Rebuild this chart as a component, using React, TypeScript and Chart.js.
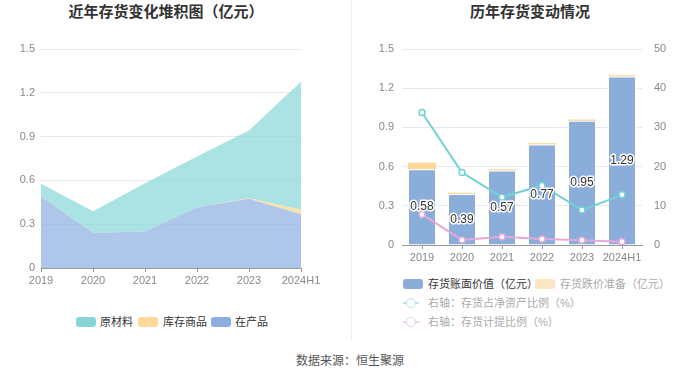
import React, { useEffect, useRef } from "react";
import { Chart, registerables } from "chart.js";

Chart.register(...registerables);

const FONT = 'Arial, "Liberation Sans", "Noto Sans CJK SC", sans-serif';

// Left chart: stacked area
const areaYears = ["2019", "2020", "2021", "2022", "2023", "2024H1"];
const wip = [0.49, 0.24, 0.25, 0.415, 0.474, 0.369]; // 在产品
const goods = [0, 0, 0, 0, 0.004, 0.03]; // 库存商品
const rawMat = [0.087, 0.148, 0.33, 0.349, 0.464, 0.878]; // 原材料

// Right chart: bars + lines
const barYears = ["2019", "2020", "2021", "2022", "2023", "2024H1"];
const bookValue = [0.58, 0.39, 0.57, 0.77, 0.95, 1.29];
const provision = [0.05, 0.01, 0.01, 0.01, 0.01, 0.01];
const netAssetRatio = [33.8, 18.5, 12.2, 15.2, 8.9, 12.8];
const provisionRatio = [7.8, 1.3, 2.1, 1.5, 1.2, 0.85];

const leftTicks = [0, 0.3, 0.6, 0.9, 1.2, 1.5];

const fmt = (v: number) => {
  const n = Number(Number(v).toFixed(2));
  return String(n);
};

function AreaChart() {
  const ref = useRef<HTMLCanvasElement>(null);
  useEffect(() => {
    const chart = new Chart(ref.current!, {
      type: "line",
      data: {
        labels: areaYears,
        datasets: [
          {
            label: "在产品",
            data: wip,
            fill: "origin",
            backgroundColor: "rgba(140,174,224,0.7)",
            borderWidth: 0,
            pointRadius: 0,
            tension: 0,
          },
          {
            label: "库存商品",
            data: goods,
            fill: "-1",
            backgroundColor: "rgba(253,218,150,0.8)",
            borderWidth: 0,
            pointRadius: 0,
            tension: 0,
          },
          {
            label: "原材料",
            data: rawMat,
            fill: "-1",
            backgroundColor: "rgba(136,213,217,0.7)",
            borderWidth: 0,
            pointRadius: 0,
            tension: 0,
          },
        ],
      },
      options: {
        animation: false,
        responsive: false,
        layout: { padding: { top: 19, right: 49, left: 0, bottom: 0 } },
        plugins: { legend: { display: false }, tooltip: { enabled: false } },
        scales: {
          x: {
            offset: false,
            grid: { display: true, drawOnChartArea: false, drawTicks: true, tickLength: 4, color: "#999" },
            border: { color: "#999" },
            ticks: { color: "#888", font: { family: FONT, size: 11 }, padding: 2, maxRotation: 0, autoSkip: false },
            afterFit: (s: any) => { s.height = 22; },
          },
          y: {
            stacked: true,
            min: 0,
            max: 1.5,
            afterBuildTicks: (s: any) => { s.ticks = leftTicks.map((v) => ({ value: v })); },
            grid: { color: "#e6e9f4", drawTicks: false },
            border: { display: false },
            ticks: { color: "#888", font: { family: FONT, size: 11 }, padding: 6, callback: (v: any) => fmt(v) },
            afterFit: (s: any) => { s.width = 41; },
          },
        },
      },
    });
    return () => chart.destroy();
  }, []);
  return <canvas ref={ref} width={350} height={260} style={{ position: "absolute", left: 0, top: 30, width: 350, height: 260 }} />;
}

const labelPlugin = {
  id: "barLabels",
  afterDatasetsDraw(chart: any) {
    const meta = chart.getDatasetMeta(0);
    const ctx = chart.ctx;
    ctx.save();
    ctx.font = `12px ${FONT}`;
    ctx.textAlign = "center";
    ctx.textBaseline = "middle";
    meta.data.forEach((el: any, i: number) => {
      const y = (el.y + el.base) / 2;
      const t = fmt(bookValue[i]);
      ctx.lineWidth = 3;
      ctx.strokeStyle = "#fff";
      ctx.lineJoin = "round";
      ctx.strokeText(t, el.x, y);
      ctx.fillStyle = "#333";
      ctx.fillText(t, el.x, y);
    });
    ctx.restore();
  },
};

function BarChart() {
  const ref = useRef<HTMLCanvasElement>(null);
  useEffect(() => {
    const chart = new Chart(ref.current!, {
      type: "bar",
      data: {
        labels: barYears,
        datasets: [
          {
            type: "bar",
            label: "存货账面价值（亿元）",
            data: bookValue,
            backgroundColor: "#8badda",
            borderColor: "rgba(255,255,255,0.5)",
            borderWidth: 1,
            barPercentage: 0.7,
            categoryPercentage: 1,
            yAxisID: "y",
            order: 2,
          },
          {
            type: "bar",
            label: "存货跌价准备（亿元）",
            data: provision,
            backgroundColor: "#fdd797",
            borderWidth: 0,
            barPercentage: 0.7,
            categoryPercentage: 1,
            yAxisID: "y",
            order: 2,
          },
          {
            type: "line",
            label: "右轴：存货占净资产比例（%）",
            data: netAssetRatio,
            borderColor: "#72d1d4",
            borderWidth: 2,
            pointRadius: 3,
            pointBackgroundColor: "#fff",
            pointBorderColor: "#72d1d4",
            pointBorderWidth: 1.5,
            tension: 0,
            yAxisID: "y1",
            order: 0,
          } as any,
          {
            type: "line",
            label: "右轴：存货计提比例（%）",
            data: provisionRatio,
            borderColor: "#e4a9da",
            borderWidth: 2,
            pointRadius: 3,
            pointBackgroundColor: "#fff",
            pointBorderColor: "#e4a9da",
            pointBorderWidth: 1.5,
            tension: 0,
            yAxisID: "y1",
            order: 0,
          } as any,
        ],
      },
      options: {
        animation: false,
        responsive: false,
        layout: { padding: { top: 19, right: 0, left: 0, bottom: 0 } },
        plugins: { legend: { display: false }, tooltip: { enabled: false } },
        scales: {
          x: {
            stacked: true,
            grid: { display: true, offset: false, drawOnChartArea: false, drawTicks: true, tickLength: 4, color: "#999" },
            border: { color: "#999" },
            ticks: { color: "#888", font: { family: FONT, size: 11 }, padding: 2, maxRotation: 0, autoSkip: false },
            afterFit: (s: any) => { s.height = 25; },
          },
          y: {
            stacked: true,
            position: "left",
            min: 0,
            max: 1.5,
            afterBuildTicks: (s: any) => { s.ticks = leftTicks.map((v) => ({ value: v })); },
            grid: { color: "#e6e9f4", drawTicks: false },
            border: { display: false },
            ticks: { color: "#888", font: { family: FONT, size: 11 }, padding: 8, callback: (v: any) => fmt(v) },
            afterFit: (s: any) => { s.width = 52; },
          },
          y1: {
            position: "right",
            min: 0,
            max: 50,
            ticks: { stepSize: 10, color: "#888", font: { family: FONT, size: 11 }, padding: 12 },
            grid: { display: false, drawTicks: false },
            border: { display: false },
            afterFit: (s: any) => { s.width = 58; },
          },
        },
      },
      plugins: [labelPlugin],
    });
    return () => chart.destroy();
  }, []);
  return <canvas ref={ref} width={350} height={240} style={{ position: "absolute", left: 350, top: 30, width: 350, height: 240 }} />;
}

const txt: React.CSSProperties = { position: "absolute", fontFamily: FONT, fontSize: 11, whiteSpace: "nowrap", lineHeight: "14px" };

function Swatch({ x, y, color }: { x: number; y: number; color: string }) {
  return <div style={{ position: "absolute", left: x, top: y - 5, width: 20, height: 10, borderRadius: 3, background: color }} />;
}

function LineIcon({ x, y, color }: { x: number; y: number; color: string }) {
  return (
    <>
      <div style={{ position: "absolute", left: x, top: y - 1, width: 16, height: 2, background: color }} />
      <div style={{ position: "absolute", left: x + 3, top: y - 5, width: 8, height: 8, borderRadius: 5, border: `1px solid ${color}`, background: "#fff" }} />
    </>
  );
}

export default function App() {
  return (
    <div style={{ position: "fixed", left: 0, top: 0, width: 700, height: 378, background: "#fff", overflow: "hidden" }}>
      <div style={{ ...txt, left: 0, width: 332, top: 3, textAlign: "center", fontSize: 15, fontWeight: "bold", color: "#333", lineHeight: "18px" }}>近年存货变化堆积图（亿元）</div>
      <div style={{ ...txt, left: 350, width: 360, top: 3, textAlign: "center", fontSize: 15, fontWeight: "bold", color: "#333", lineHeight: "18px" }}>历年存货变动情况</div>
      <div style={{ position: "absolute", left: 351, top: 0, width: 1, height: 340, background: "#eeeeee" }} />
      <AreaChart />
      <BarChart />
      {/* left legend */}
      <Swatch x={76} y={322} color="#88d5d9" />
      <div style={{ ...txt, left: 100, top: 315, color: "#333" }}>原材料</div>
      <Swatch x={138} y={322} color="#fdd99a" />
      <div style={{ ...txt, left: 163, top: 315, color: "#333" }}>库存商品</div>
      <Swatch x={211} y={322} color="#8cade0" />
      <div style={{ ...txt, left: 235, top: 315, color: "#333" }}>在产品</div>
      {/* right legend */}
      <Swatch x={403} y={284} color="#8badda" />
      <div style={{ ...txt, left: 428, top: 277, color: "#333" }}>存货账面价值（亿元）</div>
      <Swatch x={535} y={284} color="#fde6c2" />
      <div style={{ ...txt, left: 560, top: 277, color: "#aaa" }}>存货跌价准备（亿元）</div>
      <LineIcon x={403} y={303} color="#b5e8ea" />
      <div style={{ ...txt, left: 428, top: 296, color: "#aaa" }}>右轴：存货占净资产比例（%）</div>
      <LineIcon x={403} y={322} color="#f0cde9" />
      <div style={{ ...txt, left: 428, top: 315, color: "#aaa" }}>右轴：存货计提比例（%）</div>
      <div style={{ ...txt, left: 0, width: 700, top: 354, textAlign: "center", fontSize: 12, color: "#555" }}>数据来源：恒生聚源</div>
    </div>
  );
}
